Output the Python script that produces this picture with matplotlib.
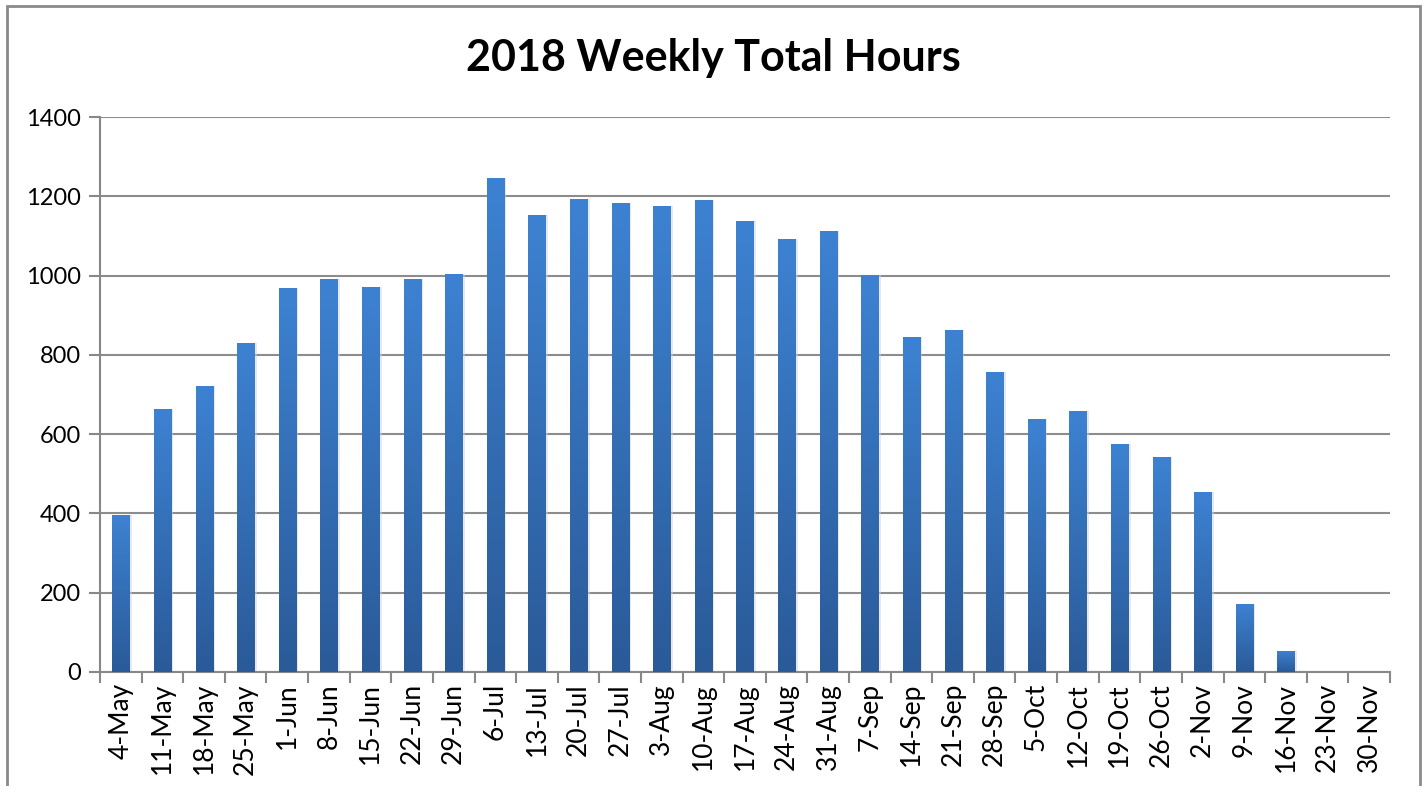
import numpy as np
import matplotlib
matplotlib.use("Agg")
import matplotlib.pyplot as plt
from matplotlib.patches import Rectangle
from matplotlib.colors import LinearSegmentedColormap

# weekly totals
weeks = ["4-May", "11-May", "18-May", "25-May",
         "1-Jun", "8-Jun", "15-Jun", "22-Jun", "29-Jun",
         "6-Jul", "13-Jul", "20-Jul", "27-Jul",
         "3-Aug", "10-Aug", "17-Aug", "24-Aug", "31-Aug",
         "7-Sep", "14-Sep", "21-Sep", "28-Sep",
         "5-Oct", "12-Oct", "19-Oct", "26-Oct",
         "2-Nov", "9-Nov", "16-Nov", "23-Nov", "30-Nov"]
hours = [396, 663, 721, 830,
         969, 991, 971, 991, 1004,
         1246, 1153, 1193, 1183,
         1176, 1191, 1138, 1092, 1112,
         1001, 845, 863, 757,
         638, 658, 575, 542,
         454, 172, 53, 0, 0]
yticks = [0, 200, 400, 600, 800, 1000, 1200, 1400]

plt.rcParams['font.family'] = ['Lato', 'DejaVu Sans']

W, H = 1426, 786
fig = plt.figure(figsize=(W / 100, H / 100), dpi=100)
ax = fig.add_axes([100 / W, (H - 672) / H, 1290 / W, 555 / H])

x = np.arange(len(weeks))
grad = LinearSegmentedColormap.from_list("bar", ["#2a5a98", "#3d82d2"])

# faint shadow round the bars
ax.bar(x + 0.03, hours, width=0.47, color="#d4d4d4", alpha=0.5, zorder=2)
bars = ax.bar(x, hours, width=0.41, color="none", zorder=3)
ramp = np.linspace(0, 1, 256).reshape(-1, 1)
for b in bars:
    if b.get_height() <= 0:
        continue
    x0, w, h = b.get_x(), b.get_width(), b.get_height()
    im = ax.imshow(ramp, cmap=grad, origin="lower", aspect="auto",
                   extent=[x0, x0 + w, 0, h], zorder=3)
    im.set_clip_path(b)

ax.set_xlim(-0.5, len(weeks) - 0.5)
ax.set_ylim(0, 1400)
ax.set_yticks(yticks)
ax.set_yticklabels([str(v) for v in yticks], fontsize=17)
ax.set_xticks(x)
ax.set_xticklabels(weeks, rotation=90, fontsize=19)
ax.set_xticks(np.arange(len(weeks) + 1) - 0.5, minor=True)
ax.tick_params(axis="x", which="major", length=0, pad=8)
ax.tick_params(axis="x", which="minor", length=8, color="#888888", width=1.5)
ax.tick_params(axis="y", length=8, color="#888888", width=1.5, pad=6)

ax.grid(axis="y", color="#8c8c8c", linewidth=1.5, zorder=1)
ax.set_axisbelow(True)
for s in ["top", "right"]:
    ax.spines[s].set_visible(False)
for s in ["left", "bottom"]:
    ax.spines[s].set_color("#888888")
    ax.spines[s].set_linewidth(1.5)

fig.text(713 / W, 1 - 58 / H, "2018 Weekly Total Hours", ha="center", va="center",
         fontsize=31, fontweight="bold")

# chart frame (bottom edge falls outside the picture)
fig.patches.append(Rectangle((7 / W, -0.05), (1420 - 7) / W, 1.05 - 6 / H,
                             transform=fig.transFigure, fill=False,
                             edgecolor="#8a8a8a", linewidth=2))

fig.savefig("out.png", dpi=100)
